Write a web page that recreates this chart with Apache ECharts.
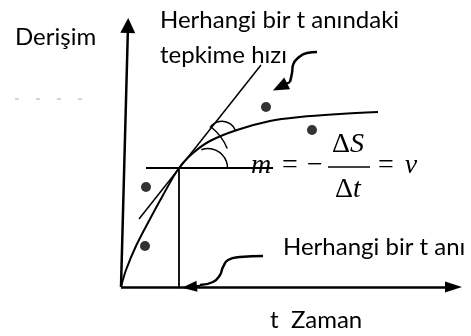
<!DOCTYPE html>
<html><head><meta charset="utf-8">
<script src="https://cdn.jsdelivr.net/npm/echarts@6/dist/echarts.min.js"></script>
<style>html,body{margin:0;padding:0;background:#fff}#c{width:471px;height:336px}</style>
</head><body><div id="c"></div>
<script>
// Diagram units: t (time, to the right) and concentration (upward), origin at the axes corner
const curveT = [0, 5, 15, 29, 41, 58, 72, 89, 116, 149, 179, 219, 257];
const curveC = [0, 17, 41, 68, 90, 119, 134, 146, 157, 166, 170, 173, 175];
const tangentLine = [[18, 68], [140, 222]];
const horizLine = [[25, 119], [152, 119]];
const vertLine = [[58, 0], [58, 119]];
const yAxisArrow = [[0, 0], [7, 261.5]];
const xAxisArrow = [[0, 0], [332.5, 0]];
const dots = [[25, 100], [24, 41], [145, 180], [191, 157]];
// arcs: centre t, centre C, radius, start angle, end angle (degrees)
const arcs = [[58, 119, 52, 52, 22], [101, 151, 14.7, 145, 20], [87, 119, 19.5, 110, 0]];
const topCurl = [[196, 235], [186, 234], [177, 229], [172, 222], [171, 214], [169, 205]];
const topHead = [[169, 205], [159, 200]];
const bottomCurl = [[142, 31], [119, 30], [107, 27], [102, 20], [99, 12], [92, 5], [79, 2]];
const bottomHead = [[79, 1], [68.5, 0]];
const dashRow = [[-106, 188], [-39, 188]];

const labelDerisim = 'Derişim';
const labelTop1 = 'Herhangi bir t anındaki';
const labelTop2 = 'tepkime hızı';
const labelBottom = 'Herhangi bir t anı';
const labelTime = 't  Zaman';

const chart = echarts.init(document.getElementById('c'), null, {renderer: 'canvas'});
const black = '#000';
function seg(pts, w, extra) {
  return Object.assign({
    type: 'line', data: pts, showSymbol: false, symbol: 'none', silent: true,
    lineStyle: {color: black, width: w}, animation: false, z: 3
  }, extra || {});
}
function arrow(pts, size, w) {
  return [{coord: pts[0], symbol: 'none', lineStyle: {width: w, color: black, type: 'solid'}},
          {coord: pts[1], symbol: 'triangle', symbolSize: size}];
}
const SANS = 'Lato';
const fs = 24;
const mathFont = '"Liberation Serif"';
const mfs = 28;
function txt(text, x, y, align, font) {
  return {type: 'text', x: x, y: y, silent: true,
    style: {text: text, font: font, fill: black, align: align, verticalAlign: 'middle'}};
}
chart.setOption({
  animation: false,
  backgroundColor: '#fff',
  grid: {left: 0, right: 0, top: 0, bottom: 0},
  xAxis: {type: 'value', min: -121, max: 350, show: false},
  yAxis: {type: 'value', min: -49, max: 287, show: false},
  series: [
    seg(curveT.map((t, i) => [t, curveC[i]]), 2, {smooth: 0.35,
      markLine: {silent: true, animation: false, label: {show: false}, emphasis: {disabled: true},
        symbol: ['none', 'triangle'],
        lineStyle: {color: black, type: 'solid', width: 2.5},
        data: [
          arrow(yAxisArrow, [15, 15], 2.5),
          arrow(xAxisArrow, [11, 17], 2.5),
          arrow(topHead, [13, 16], 2.5),
          arrow(bottomHead, [11, 15], 2.5)
        ]}}),
    seg(tangentLine, 1.5),
    seg(horizLine, 2),
    seg(vertLine, 1.8),
    seg(topCurl, 2.5, {smooth: 0.5}),
    seg(bottomCurl, 2.5, {smooth: 0.5}),
    seg(dashRow, 1, {lineStyle: {color: '#aaa', width: 1, type: [4, 17]}}),
    {type: 'scatter', data: dots, symbol: 'circle', symbolSize: 10, silent: true,
      itemStyle: {color: black}, z: 4},
    {type: 'custom', data: arcs, silent: true, clip: false, z: 4,
      encode: {x: 0, y: 1},
      renderItem: function (params, api) {
        const c = api.coord([api.value(0), api.value(1)]);
        const r = api.size([api.value(2), 0])[0];
        return {type: 'arc', shape: {cx: c[0], cy: c[1], r: r,
          startAngle: -api.value(3) * Math.PI / 180, endAngle: -api.value(4) * Math.PI / 180, clockwise: true},
          style: {fill: 'none', stroke: black, lineWidth: 1.5}};
      }}
  ],
  graphic: [
    txt(labelDerisim, 15, 37.3, 'left', fs + 'px ' + SANS),
    txt(labelTop1, 160, 20.3, 'left', fs + 'px ' + SANS),
    txt(labelTop2, 160, 55.3, 'left', fs + 'px ' + SANS),
    txt(labelBottom, 283, 247.3, 'left', fs + 'px ' + SANS),
    txt(labelTime, 270, 320.3, 'left', fs + 'px ' + SANS),
    txt('m', 261, 165.5, 'center', 'italic ' + mfs + 'px ' + mathFont),
    txt('=', 290, 165.5, 'center', mfs + 'px ' + mathFont),
    txt('\u2212', 315, 165.5, 'center', mfs + 'px ' + mathFont),
    {type: 'text', x: 348, y: 144.5, silent: true, style: {text: '{u|Δ}{i|S}', align: 'center', verticalAlign: 'middle',
      rich: {u: {font: mfs + 'px ' + mathFont, fill: black}, i: {font: 'italic ' + mfs + 'px ' + mathFont, fill: black}}}},
    {type: 'line', silent: true, shape: {x1: 328, y1: 167, x2: 370, y2: 167}, style: {stroke: black, lineWidth: 1.3}},
    {type: 'text', x: 348, y: 189.5, silent: true, style: {text: '{u|Δ}{i|t}', align: 'center', verticalAlign: 'middle',
      rich: {u: {font: mfs + 'px ' + mathFont, fill: black}, i: {font: 'italic ' + mfs + 'px ' + mathFont, fill: black}}}},
    txt('=', 386, 165.5, 'center', mfs + 'px ' + mathFont),
    txt('v', 411, 165.5, 'center', 'italic ' + mfs + 'px ' + mathFont)
  ]
});
</script></body></html>
